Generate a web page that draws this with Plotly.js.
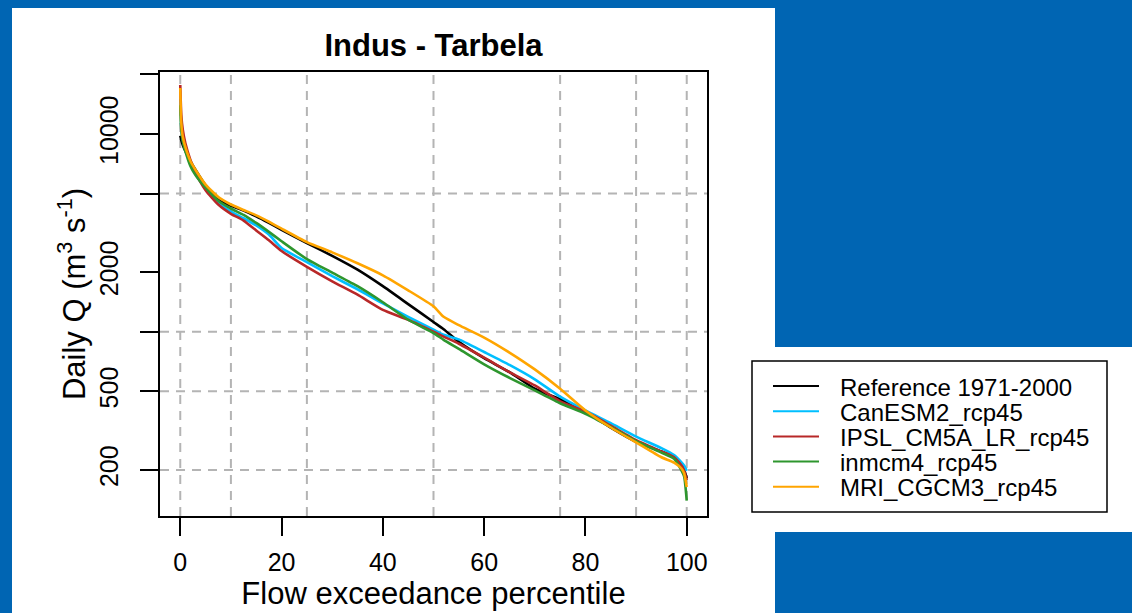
<!DOCTYPE html>
<html>
<head>
<meta charset="utf-8">
<script src="https://cdn.plot.ly/plotly-3.0.1.min.js"></script>
<style>
  html, body { margin: 0; padding: 0; background: #0065B3; }
  #chart { width: 1132px; height: 613px; }
</style>
</head>
<body>
<div id="chart"></div>
<script>
// ---- Data ----
const pct = [0, 0.2, 0.5, 1, 2, 3, 5, 7.5, 10, 12.5, 15, 17.5, 20, 25, 30, 35, 40, 45, 50, 52, 55, 60, 65, 70, 75, 80, 85, 90, 95, 97.5, 99, 99.5, 100];

const reference = [9800, 9300, 8800, 8200, 7300, 6600, 5500, 4650, 4330, 4100, 3830, 3550, 3280, 2810, 2420, 2060, 1700, 1380, 1120, 1030, 890, 735, 625, 515, 455, 395, 328, 278, 248, 232, 212, 200, 182];
const canesm2  = [15000, 11000, 9400, 8400, 7100, 6300, 5300, 4500, 4050, 3750, 3450, 3100, 2650, 2250, 1910, 1640, 1390, 1190, 1025, 965, 915, 790, 680, 575, 470, 400, 345, 295, 258, 238, 218, 210, 198];
const ipsl     = [17700, 12500, 10500, 9000, 7400, 6400, 5200, 4400, 3950, 3650, 3250, 2900, 2560, 2130, 1800, 1540, 1290, 1150, 1000, 945, 870, 740, 625, 535, 445, 395, 335, 283, 248, 232, 210, 198, 178];
const inmcm4   = [14000, 10500, 9200, 8200, 6900, 6200, 5350, 4600, 4200, 3900, 3550, 3200, 2870, 2330, 1990, 1700, 1410, 1150, 985, 910, 820, 685, 585, 505, 435, 385, 330, 280, 245, 228, 198, 185, 140];
const mri      = [17100, 11400, 9700, 8600, 7300, 6600, 5550, 4800, 4400, 4130, 3880, 3600, 3320, 2840, 2520, 2220, 1930, 1620, 1345, 1190, 1080, 935, 785, 645, 515, 400, 328, 276, 232, 218, 203, 192, 164];

const seriesNames  = ["Reference 1971-2000", "CanESM2_rcp45", "IPSL_CM5A_LR_rcp45", "inmcm4_rcp45", "MRI_CGCM3_rcp45"];
const seriesValues = [reference, canesm2, ipsl, inmcm4, mri];
const seriesColors = ["#000000", "#00BFFF", "#B82828", "#2E962E", "#FFA500"];

const xTicks = [0, 20, 40, 60, 80, 100];
const yTicks = [200, 500, 2000, 10000];
const yMinorTicks = [1000, 5000, 20000];
const xGrid = [0, 10, 25, 50, 75, 90, 100];
const yGrid = [200, 500, 1000, 5000];

// ---- Layout geometry (pixels) ----
const W = 1132, H = 613;
const L = 160, R = 707, T = 72, B = 516;
const pw = R - L, ph = B - T;
const px = v => (v - L) / pw;          // pixel x -> paper x
const py = v => (B - v) / ph;          // pixel y -> paper y

const FONT = "Liberation Sans, Arial, Helvetica, sans-serif";

const traces = seriesValues.map((vals, i) => ({
  x: pct,
  y: vals,
  type: "scatter",
  mode: "lines",
  name: seriesNames[i],
  line: { color: seriesColors[i], width: 2.6, shape: "spline", smoothing: 0.5 },
  showlegend: false,
  hoverinfo: "skip"
}));

const shapes = [];
// white panels behind the chart
shapes.push({ type: "rect", xref: "paper", yref: "paper", layer: "below",
  x0: px(12), x1: px(775), y0: py(H + 5), y1: py(8),
  fillcolor: "#FFFFFF", line: { width: 0 } });
shapes.push({ type: "rect", xref: "paper", yref: "paper", layer: "below",
  x0: px(770), x1: px(W + 5), y0: py(532), y1: py(347),
  fillcolor: "#FFFFFF", line: { width: 0 } });
// dashed grid
xGrid.forEach(g => shapes.push({ type: "line", xref: "x", yref: "paper", layer: "below",
  x0: g, x1: g, y0: 0, y1: 1, line: { color: "#B4B4B4", width: 2, dash: "9px,7px" } }));
yGrid.forEach(g => shapes.push({ type: "line", xref: "paper", yref: "y", layer: "below",
  x0: 0, x1: 1, y0: g, y1: g, line: { color: "#B4B4B4", width: 2, dash: "9px,7px" } }));
// legend box
shapes.push({ type: "rect", xref: "paper", yref: "paper", layer: "above",
  x0: px(752), x1: px(1107), y0: py(512), y1: py(361),
  fillcolor: "#FFFFFF", line: { color: "#000000", width: 1.5 } });

const annotations = [];
const legTop = 386, legStep = 25.2;
seriesNames.forEach((n, i) => {
  const yy = legTop + i * legStep;
  shapes.push({ type: "line", xref: "paper", yref: "paper", layer: "above",
    x0: px(773), x1: px(819), y0: py(yy), y1: py(yy),
    line: { color: seriesColors[i], width: 2 } });
  annotations.push({ xref: "paper", yref: "paper", x: px(838), y: py(yy + 1),
    xanchor: "left", yanchor: "middle", showarrow: false, text: n,
    font: { family: FONT, size: 24, color: "#000000" } });
});

const layout = {
  width: W, height: H,
  margin: { l: L, r: W - R, t: T, b: H - B, pad: 0 },
  paper_bgcolor: "#0065B3",
  plot_bgcolor: "#FFFFFF",
  showlegend: false,
  title: {
    text: "Indus - Tarbela",
    x: 0.5, xref: "paper", xanchor: "center",
    y: 1 - 45 / H, yref: "container", yanchor: "middle",
    font: { family: FONT, size: 31, color: "#000000", weight: "bold" }
  },
  xaxis: {
    type: "linear", range: [-4, 104],
    tickvals: xTicks, ticktext: xTicks.map(String),
    ticks: "outside", ticklen: 18, tickwidth: 2, tickcolor: "#000000",
    ticklabelstandoff: 5,
    showline: true, linewidth: 2, linecolor: "#000000", mirror: true,
    showgrid: false, zeroline: false,
    tickfont: { family: FONT, size: 25, color: "#000000" },
    title: { text: "Flow exceedance percentile", standoff: 6,
      font: { family: FONT, size: 31, color: "#000000" } }
  },
  yaxis: {
    type: "log", range: [2.0684, 4.3135],
    tickvals: yTicks, ticktext: yTicks.map(String),
    tickangle: -90,
    ticks: "outside", ticklen: 18, tickwidth: 2, tickcolor: "#000000",
    ticklabelstandoff: 12,
    minor: { tickvals: yMinorTicks, ticks: "outside", ticklen: 18, tickwidth: 2,
      tickcolor: "#000000", showgrid: false },
    showline: true, linewidth: 2, linecolor: "#000000", mirror: true,
    showgrid: false, zeroline: false,
    tickfont: { family: FONT, size: 25, color: "#000000" },
    title: { text: "Daily Q (m<sup>3</sup> s<sup>-1</sup>)", standoff: 0,
      font: { family: FONT, size: 31, color: "#000000" } }
  },
  shapes: shapes,
  annotations: annotations
};

Plotly.newPlot("chart", traces, layout, { displayModeBar: false, staticPlot: true });
</script>
</body>
</html>
